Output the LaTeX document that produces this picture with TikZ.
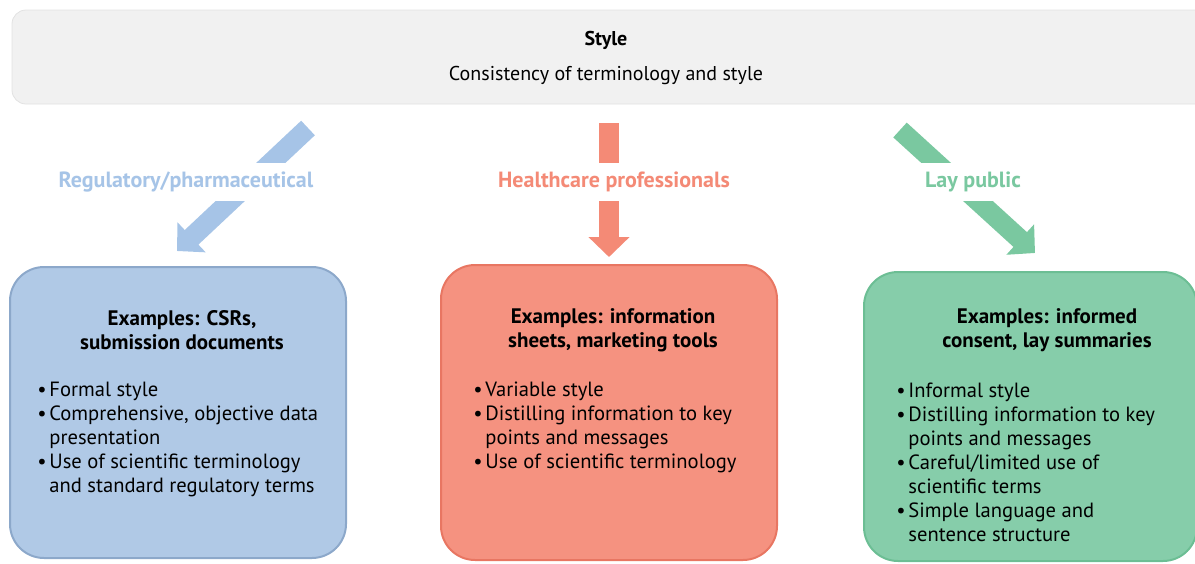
\documentclass[tikz,border=0pt]{standalone}
\usepackage{fontspec}
\setmainfont{PT Sans}
\usetikzlibrary{arrows.meta,positioning}
\definecolor{boxgray}{RGB}{241,241,241}
\definecolor{linegray}{RGB}{226,226,226}
\definecolor{regfill}{RGB}{176,201,230}
\definecolor{regline}{RGB}{140,168,202}
\definecolor{regarrow}{RGB}{166,196,231}
\definecolor{hcpfill}{RGB}{245,146,128}
\definecolor{hcpline}{RGB}{232,118,98}
\definecolor{hcparrow}{RGB}{244,138,118}
\definecolor{layfill}{RGB}{134,205,170}
\definecolor{layline}{RGB}{108,190,148}
\definecolor{layarrow}{RGB}{122,200,160}
\newcommand{\blt}{\makebox[6pt][l]{\textbullet}}
\newcommand{\bcont}{\hspace*{6pt}}

\begin{document}
\begin{tikzpicture}[x=0.5pt,y=-0.5pt,
  card/.style={draw, line width=1pt, rounded corners=17pt},
  flow/.style={line width=10pt, -{Triangle[width=20pt,length=10pt]}},
  tag/.style={fill=white, inner sep=0pt, minimum height=19pt, font=\fontsize{11}{13}\bfseries},
  head/.style={align=center, inner sep=0pt, font=\fontsize{10.5}{12}\bfseries},
  body/.style={align=left, inner sep=0pt, anchor=west, font=\fontsize{10.3}{12}\selectfont}]
  \clip (0,0) rectangle (1195,563);
  % style box on top
  \draw[fill=boxgray, draw=linegray, rounded corners=7pt] (12,10) rectangle (1210,104);
  \node[font=\bfseries] (style) at (606,40) {Style};
  \node (consist) at (606,75) {Consistency of terminology and style};
  % arrow ends
  \coordinate (regStart) at (308,128);
  \coordinate (regTip) at (177,251);
  \coordinate (hcpStart) at (609,123);
  \coordinate (hcpTip) at (609,257);
  \coordinate (layStart) at (900,130);
  \coordinate (layTip) at (1035,253);
  % draw arrows
  \draw[flow, regarrow] (regStart) -- (regTip);
  \draw[flow, hcparrow] (hcpStart) -- (hcpTip);
  \draw[flow, layarrow] (layStart) -- (layTip);
  % audience labels
  \node[tag, text=regarrow, minimum width=153pt] (regLabel) at (186,182) {Regulatory/pharmaceutical};
  \node[tag, text=hcparrow, minimum width=144pt] (hcpLabel) at (614,182) {Healthcare professionals};
  \node[tag, text=layarrow, minimum width=100pt] (layLabel) at (973,182) {Lay public};
  % example boxes
  \draw[card, fill=regfill, draw=regline] (10,267) rectangle (346,558);
  \draw[card, fill=hcpfill, draw=hcpline] (441,265) rectangle (777,560);
  \draw[card, fill=layfill, draw=layline] (864,272) rectangle (1197,561);
  % box texts
  \node[head] (regHead) at (182,330) {Examples: CSRs,\\submission documents};
  \node[body] (regBody) at (37,439) {\blt Formal style\\
    \blt Comprehensive, objective data\\
    \bcont presentation\\
    \blt Use of scientific terminology\\
    \bcont and standard regulatory terms};
  \node[head] (hcpHead) at (613,330) {Examples: information\\sheets, marketing tools};
  \node[body] (hcpBody) at (473,427) {\blt Variable style\\
    \blt Distilling information to key\\
    \bcont points and messages\\
    \blt Use of scientific terminology};
  \node[head] (layHead) at (1047,330) {Examples: informed\\consent, lay summaries};
  \node[body] (layBody) at (896,462) {\blt Informal style\\
    \blt Distilling information to key\\
    \bcont points and messages\\
    \blt Careful/limited use of\\
    \bcont scientific terms\\
    \blt Simple language and\\
    \bcont sentence structure};
\end{tikzpicture}
\end{document}
